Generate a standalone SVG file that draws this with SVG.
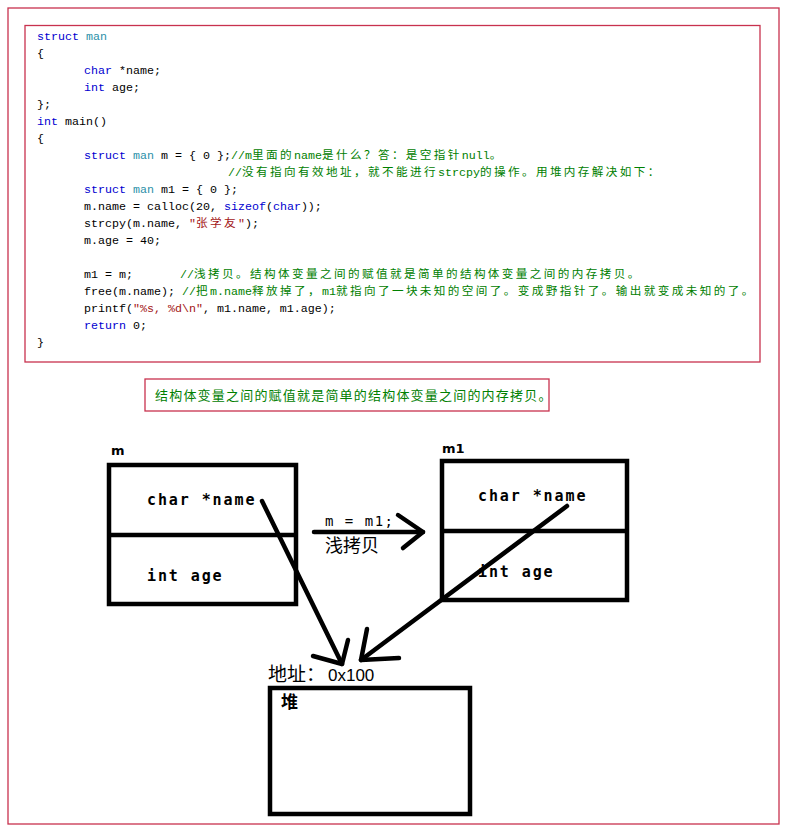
<svg xmlns="http://www.w3.org/2000/svg" width="793" height="835" viewBox="0 0 793 835" xml:space="preserve">
<style>
.frame{fill:none;stroke:#c8324e;stroke-width:1.3}
.code{font-family:"Liberation Mono","Noto Sans CJK SC",monospace;font-size:11.67px;fill:#000}
.cj{font-family:"Noto Sans CJK SC",sans-serif;font-size:11.6px;letter-spacing:2.4px}
.kw{fill:#0000d0}
.ty{fill:#2b8fa8}
.cm{fill:#008000}
.st{fill:#a31515}
.box{fill:#fff;stroke:#000;stroke-width:4.5}
.div{stroke:#000;stroke-width:4.5}
.fld{font-family:"DejaVu Sans Mono",monospace;font-weight:bold;font-size:15px;letter-spacing:1.9px;fill:#000}
.nm{font-family:"DejaVu Sans",sans-serif;font-weight:bold;font-size:13px;fill:#000}
.ln{fill:none;stroke:#000;stroke-width:4.5;stroke-linecap:round;stroke-linejoin:round}
</style>
<rect x="0" y="0" width="793" height="835" fill="#fff"/>
<rect class="frame" x="8" y="8" width="771" height="816"/>
<rect class="frame" x="25" y="25.5" width="735" height="336.5"/>
<g id="code">
<text class="code" y="40"><tspan x="37" class="kw">struct</tspan> <tspan class="ty">man</tspan></text>
<text class="code" x="37" y="57">{</text>
<text class="code" y="74"><tspan x="84" class="kw">char</tspan> *name;</text>
<text class="code" y="91"><tspan x="84" class="kw">int</tspan> age;</text>
<text class="code" x="37" y="108">};</text>
<text class="code" y="125"><tspan x="37" class="kw">int</tspan> main()</text>
<text class="code" x="37" y="142">{</text>
<text class="code" y="159"><tspan x="84" class="kw">struct</tspan> <tspan class="ty">man</tspan> m = { 0 };<tspan class="cm">//m</tspan><tspan class="cm cj">里面的</tspan><tspan class="cm">name</tspan><tspan class="cm cj">是什么？答：是空指针</tspan><tspan class="cm">null</tspan><tspan class="cm cj">。</tspan></text>
<text class="code" y="176"><tspan x="228" class="cm">//</tspan><tspan class="cm cj">没有指向有效地址，就不能进行</tspan><tspan class="cm">strcpy</tspan><tspan class="cm cj">的操作。用堆内存解决如下：</tspan></text>
<text class="code" y="193"><tspan x="84" class="kw">struct</tspan> <tspan class="ty">man</tspan> m1 = { 0 };</text>
<text class="code" y="210"><tspan x="84">m.name = calloc(20, </tspan><tspan class="kw">sizeof</tspan>(<tspan class="kw">char</tspan>));</text>
<text class="code" y="227"><tspan x="84">strcpy(m.name, </tspan><tspan class="st">"</tspan><tspan class="st cj">张学友</tspan><tspan class="st">"</tspan>);</text>
<text class="code" x="84" y="244">m.age = 40;</text>
<text class="code" y="278"><tspan x="84">m1 = m;</tspan><tspan x="180" class="cm">//</tspan><tspan class="cm cj">浅拷贝。结构体变量之间的赋值就是简单的结构体变量之间的内存拷贝。</tspan></text>
<text class="code" y="295"><tspan x="84">free(m.name); </tspan><tspan class="cm">//</tspan><tspan class="cm cj">把</tspan><tspan class="cm">m.name</tspan><tspan class="cm cj">释放掉了，</tspan><tspan class="cm">m1</tspan><tspan class="cm cj">就指向了一块未知的空间了。变成野指针了。输出就变成未知的了。</tspan></text>
<text class="code" y="312"><tspan x="84">printf(</tspan><tspan class="st">"%s, %d\n"</tspan>, m1.name, m1.age);</text>
<text class="code" y="329"><tspan x="84" class="kw">return</tspan> 0;</text>
<text class="code" x="37" y="346">}</text>
</g>
<g id="note">
<rect class="frame" x="145" y="379" width="404" height="32"/>
<text x="155" y="400" font-family="Noto Sans CJK SC,sans-serif" font-size="13px" letter-spacing="1.2px" fill="#008000">结构体变量之间的赋值就是简单的结构体变量之间的内存拷贝。</text>
</g>
<g id="node-m">
<text class="nm" x="111" y="455">m</text>
<rect class="box" x="109" y="465" width="187" height="139"/>
<line class="div" x1="109" y1="535" x2="296" y2="535"/>
<text class="fld" x="147" y="505">char *name</text>
<text class="fld" x="147" y="581">int age</text>
</g>
<g id="node-m1">
<text class="nm" x="442" y="453">m1</text>
<rect class="box" x="442" y="461" width="185" height="139"/>
<line class="div" x1="442" y1="531" x2="627" y2="531"/>
<text class="fld" x="478" y="501">char *name</text>
<text class="fld" x="478" y="577">int age</text>
</g>
<g id="node-heap">
<text x="268" y="681" font-family="Noto Sans CJK SC,sans-serif" font-size="19px" fill="#000">地址：</text>
<text x="328" y="681" font-family="Liberation Sans,sans-serif" font-size="17px" fill="#000">0x100</text>
<rect class="box" x="270" y="688" width="200" height="126"/>
<text x="281" y="708" font-family="Noto Sans CJK SC,sans-serif" font-weight="bold" font-size="17px" fill="#000">堆</text>
</g>
<g id="connectors">
<line class="ln" x1="314" y1="532" x2="423" y2="532"/>
<polyline class="ln" points="398,515 423,532 403,548"/>
<text x="325" y="526" font-family="DejaVu Sans Mono,monospace" font-size="14px" letter-spacing="1.5px" fill="#000">m = m1;</text>
<text x="325" y="552" font-family="Noto Sans CJK SC,sans-serif" font-size="18px" fill="#000">浅拷贝</text>
<line class="ln" x1="262" y1="501" x2="342" y2="664"/>
<polyline class="ln" points="313,656 342,664 348,640"/>
<line class="ln" x1="567" y1="506" x2="361" y2="660"/>
<polyline class="ln" points="367,629 361,660 399,658"/>
</g>
</svg>
